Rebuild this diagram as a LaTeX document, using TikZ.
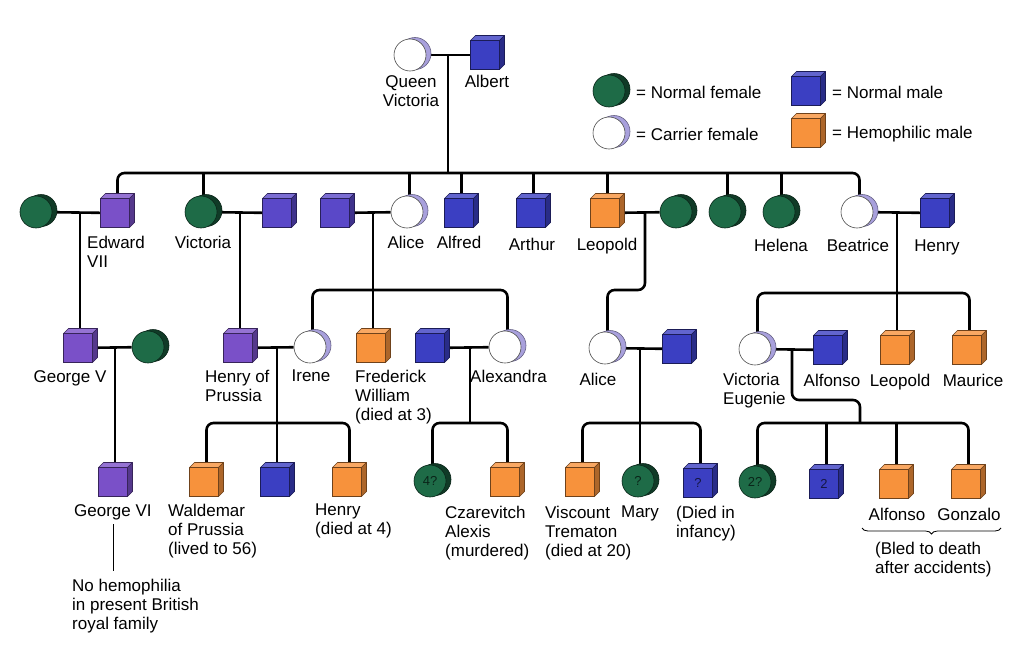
\documentclass[tikz,border=0pt]{standalone}
\usepackage{fontspec}
\setmainfont{Liberation Sans}
\usetikzlibrary{shadows,backgrounds,decorations.pathreplacing}
\definecolor{fgreen}{HTML}{1E6B47}
\definecolor{mblue}{HTML}{3B3FC2}
\definecolor{mviolet}{HTML}{5A48C8}
\definecolor{mpurple}{HTML}{7A50C8}
\definecolor{horange}{HTML}{F7923C}
\definecolor{carlav}{HTML}{A8A0DC}
\newcommand{\pedfont}{\fontsize{17}{19}\selectfont}
\newcommand{\tagfont}{\fontsize{13}{13}\selectfont}
\newcommand{\cubeside}[2]{%
    \filldraw[fill=#2!80!white,draw=#2!45!black,line width=0.6pt,line join=round]
        (#1.north west) -- ++(5pt,5pt) -- ([shift={(5pt,5pt)}]#1.north east) -- (#1.north east) -- cycle;
    \filldraw[fill=#2!70!black,draw=#2!45!black,line width=0.6pt,line join=round]
        (#1.north east) -- ++(5pt,5pt) -- ([shift={(5pt,5pt)}]#1.south east) -- (#1.south east) -- cycle;}

\begin{document}
\begin{tikzpicture}[x=1pt,y=-1pt,
        every node/.style={font=\pedfont},
        sq/.style={rectangle,minimum width=29pt,minimum height=29pt,inner sep=0pt,outer sep=0pt,line width=0.6pt,fill=#1,draw=#1!45!black},
        male/.style={sq=mblue},
        vmale/.style={sq=mviolet},
        pmale/.style={sq=mpurple},
        hemo/.style={sq=horange},
        rd/.style={circle,minimum size=32pt,inner sep=0pt,line width=0.6pt,
            general shadow={fill=#1,draw=#1!60!black,line width=0.6pt,shadow xshift=5pt,shadow yshift=1.5pt}},
        fem/.style={rd=fgreen!55!black,fill=fgreen,draw=fgreen!35!black},
        car/.style={rd=carlav,fill=white,draw=black!70},
        lab/.style={inner sep=0pt,anchor=north,align=center},
        labl/.style={inner sep=0pt,anchor=north west,align=left},
        link/.style={line width=2.6pt,rounded corners=7pt},
        brc/.style={decorate,decoration={brace,mirror,amplitude=6pt},line width=0.8pt}]
    \useasboundingbox (0,0) rectangle (1024,669);

    \node[car] (qv) at (410,55) {};
    \node[male] (albert) at (485,55) {};
    \node[lab] (lqv) at (411,75) {Queen\\Victoria};
    \node[lab] (lalbert) at (487,75) {Albert};

    \node[fem] (kfem) at (609,91) {};
    \node[car] (kcar) at (609,133) {};
    \node[male] (kmale) at (806,91) {};
    \node[hemo] (khemo) at (806,133) {};
    \node[anchor=west,inner sep=0pt] (tfem) at (636,92) {= Normal female};
    \node[anchor=west,inner sep=0pt] (tcar) at (636,134) {= Carrier female};
    \node[anchor=west,inner sep=0pt] (tmale) at (832,92) {= Normal male};
    \node[anchor=west,inner sep=0pt] (themo) at (832,134) {= Hemophilic male};

    \node[fem] (edwife) at (36,212) {};
    \node[pmale] (edw) at (115,213) {};
    \node[fem] (vic) at (201,212) {};
    \node[vmale] (vichus) at (277,213) {};
    \node[vmale] (alihus) at (335,213) {};
    \node[car] (alice) at (407,212) {};
    \node[male] (alfred) at (459,213) {};
    \node[male] (arthur) at (531,213) {};
    \node[hemo] (leo) at (605,213) {};
    \node[fem] (leowife) at (676,212) {};
    \node[fem] (dau) at (725,212) {};
    \node[fem] (helena) at (779,212) {};
    \node[car] (beat) at (857,212) {};
    \node[male] (henry) at (935,213) {};

    \node[labl] (ledw) at (87,236) {Edward\\VII};
    \node[lab] (lvic) at (203,236) {Victoria};
    \node[lab] (lalice) at (406,236) {Alice};
    \node[lab] (lalfred) at (459,236) {Alfred};
    \node[lab] (larthur) at (532,238) {Arthur};
    \node[lab] (lleo) at (607,238) {Leopold};
    \node[lab] (lhelena) at (781,239) {Helena};
    \node[lab] (lbeat) at (858,239) {Beatrice};
    \node[lab] (lhenry) at (937,240) {Henry};

    \node[pmale] (gv) at (78,348) {};
    \node[fem] (gvwife) at (148,347) {};
    \node[pmale] (hop) at (238,348) {};
    \node[car] (irene) at (310,347) {};
    \node[hemo] (fw) at (371,348) {};
    \node[male] (nich) at (430,348) {};
    \node[car] (alex) at (505,347) {};
    \node[car] (alice2) at (605,348) {};
    \node[male] (alihus2) at (677,349) {};
    \node[car] (ve) at (755,349) {};
    \node[male] (alfonso) at (828,350) {};
    \node[hemo] (leo2) at (895,350) {};
    \node[hemo] (maurice) at (967,350) {};

    \node[lab] (lgv) at (70,370) {George V};
    \node[labl] (lhop) at (205,370) {Henry of\\Prussia};
    \node[lab] (lirene) at (311,370) {Irene};
    \node[labl] (lfw) at (355,370) {Frederick\\William\\(died at 3)};
    \node[labl] (lalex) at (470,370) {Alexandra};
    \node[lab] (lalice2) at (598,373) {Alice};
    \node[labl] (lve) at (723,373) {Victoria\\Eugenie};
    \node[lab] (lalfonso) at (832,374) {Alfonso};
    \node[lab] (lleo2) at (900,374) {Leopold};
    \node[lab] (lmaurice) at (973,374) {Maurice};

    \node[pmale] (g6) at (113,482) {};
    \node[hemo] (wald) at (204,482) {};
    \node[male] (sonb) at (275,482) {};
    \node[hemo] (henry2) at (347,482) {};
    \node[fem] (dau4) at (430,481) {\tagfont\color{fgreen!35!black}4?};
    \node[hemo] (alexis) at (505,482) {};
    \node[hemo] (trem) at (580,482) {};
    \node[fem] (mary) at (638,481) {\tagfont\color{fgreen!35!black}?};
    \node[male] (inf) at (698,483) {\tagfont\color{mblue!35!black}?};
    \node[fem] (ve22) at (755,482) {\tagfont\color{fgreen!35!black}2?};
    \node[male] (ve2) at (824,484) {\tagfont\color{mblue!35!black}2};
    \node[hemo] (alfonso2) at (894,484) {};
    \node[hemo] (gonzalo) at (966,484) {};

    \node[labl] (lg6) at (74,504) {George VI};
    \node[labl] (lwald) at (168,504) {Waldemar\\of Prussia\\(lived to 56)};
    \node[labl] (lhenry2) at (315,504) {Henry\\(died at 4)};
    \node[labl] (lalexis) at (445,506) {Czarevitch\\Alexis\\(murdered)};
    \node[labl] (ltrem) at (545,506) {Viscount\\Trematon\\(died at 20)};
    \node[lab] (lmary) at (640,506) {Mary};
    \node[labl] (linf) at (676,506) {(Died in\\infancy)};
    \node[lab] (lalfonso2) at (897,508) {Alfonso};
    \node[lab] (lgonz) at (969,508) {Gonzalo};
    \node[labl] (lbled) at (875,542) {(Bled to death\\after accidents)};
    \node[labl] (lnohemo) at (72,579) {No hemophilia\\in present British\\royal family};

    \foreach \n in {albert,kmale,alfred,arthur,henry,nich,alihus2,alfonso,sonb,inf,ve2}
        \cubeside{\n}{mblue};
    \foreach \n in {vichus,alihus}
        \cubeside{\n}{mviolet};
    \foreach \n in {edw,gv,hop,g6}
        \cubeside{\n}{mpurple};
    \foreach \n in {khemo,leo,fw,leo2,maurice,wald,henry2,alexis,trem,alfonso2,gonzalo}
        \cubeside{\n}{horange};

    \coordinate (br1) at (862,528);
    \coordinate (br2) at (1001,528);
    \draw[brc] (br1) -- (br2);
    \coordinate (nh1) at (113,524);
    \coordinate (nh2) at (113,571);
    \draw[line width=0.8pt] (nh1) -- (nh2);

    \begin{scope}[on background layer]
        \coordinate (m0) at (448,55);
        \coordinate (sib) at (448,173);
        \draw[link] (qv) -- (albert);
        \draw[link] (m0) -- (sib);
        \draw[link] ([xshift=2.5pt]edw.north) |- (sib) -| ([xshift=2.5pt]beat.north);
        \foreach \c in {vic,alice,alfred,arthur,leo,dau,helena}
            \draw[link] ([xshift=2.5pt]\c.north) -- ([xshift=2.5pt]\c.north |- sib);

        \coordinate (m1) at (80,212);
        \coordinate (m2) at (240,212);
        \coordinate (m3) at (373,212);
        \coordinate (m4) at (645,212);
        \coordinate (m5) at (897,212);
        \draw[link] (edwife) -- (edw);
        \draw[link] (vic) -- (vichus);
        \draw[link] (alihus) -- (alice);
        \draw[link] (leo) -- (leowife);
        \draw[link] (beat) -- (henry);
        \draw[link] (m1) -- (m1 |- gv.north);
        \draw[link] (m2) -- (m2 |- hop.north);
        \draw[link] (m3) -- (m3 |- fw.north);
        \draw[link] (m5) -- (m5 |- leo2.north);

        \coordinate (ab) at (373,290);
        \coordinate (lb) at (645,290);
        \coordinate (bb) at (897,293);
        \draw[link] ([xshift=2.5pt]irene.north) |- (ab) -| ([xshift=2.5pt]alex.north);
        \draw[link] (m4) -- (lb) -| ([xshift=2.5pt]alice2.north);
        \draw[link] ([xshift=2.5pt]ve.north) |- (bb) -| ([xshift=2.5pt]maurice.north);

        \coordinate (m6) at (115,347);
        \coordinate (m7) at (277,347);
        \coordinate (m8) at (470,347);
        \coordinate (m9) at (640,348);
        \coordinate (m10) at (792,349);
        \draw[link] (gv) -- (gvwife);
        \draw[link] (hop) -- (irene);
        \draw[link] (nich) -- (alex);
        \draw[link] (alice2) -- (alihus2);
        \draw[link] (ve) -- (alfonso);
        \draw[link] (m6) -- (m6 |- g6.north);

        \coordinate (hb) at (277,423);
        \coordinate (xb) at (470,423);
        \coordinate (ab2) at (640,423);
        \coordinate (vk) at (860,400);
        \coordinate (vb) at (860,423);
        \draw[link] (m7) -- (m7 |- sonb.north);
        \draw[link] ([xshift=2.5pt]wald.north) |- (hb) -| ([xshift=2.5pt]henry2.north);
        \draw[link] (m8) -- (xb);
        \draw[link] ([xshift=2.5pt]dau4.north) |- (xb) -| ([xshift=2.5pt]alexis.north);
        \draw[link] (m9) -- (m9 |- mary.north);
        \draw[link] ([xshift=2.5pt]trem.north) |- (ab2) -| ([xshift=2.5pt]inf.north);
        \draw[link] (m10) |- (vk) -- (vb);
        \draw[link] ([xshift=2.5pt]ve22.north) |- (vb) -| ([xshift=2.5pt]gonzalo.north);
        \draw[link] ([xshift=2.5pt]ve2.north) -- ([xshift=2.5pt]ve2.north |- vb);
        \draw[link] ([xshift=2.5pt]alfonso2.north) -- ([xshift=2.5pt]alfonso2.north |- vb);
    \end{scope}
\end{tikzpicture}
\end{document}
